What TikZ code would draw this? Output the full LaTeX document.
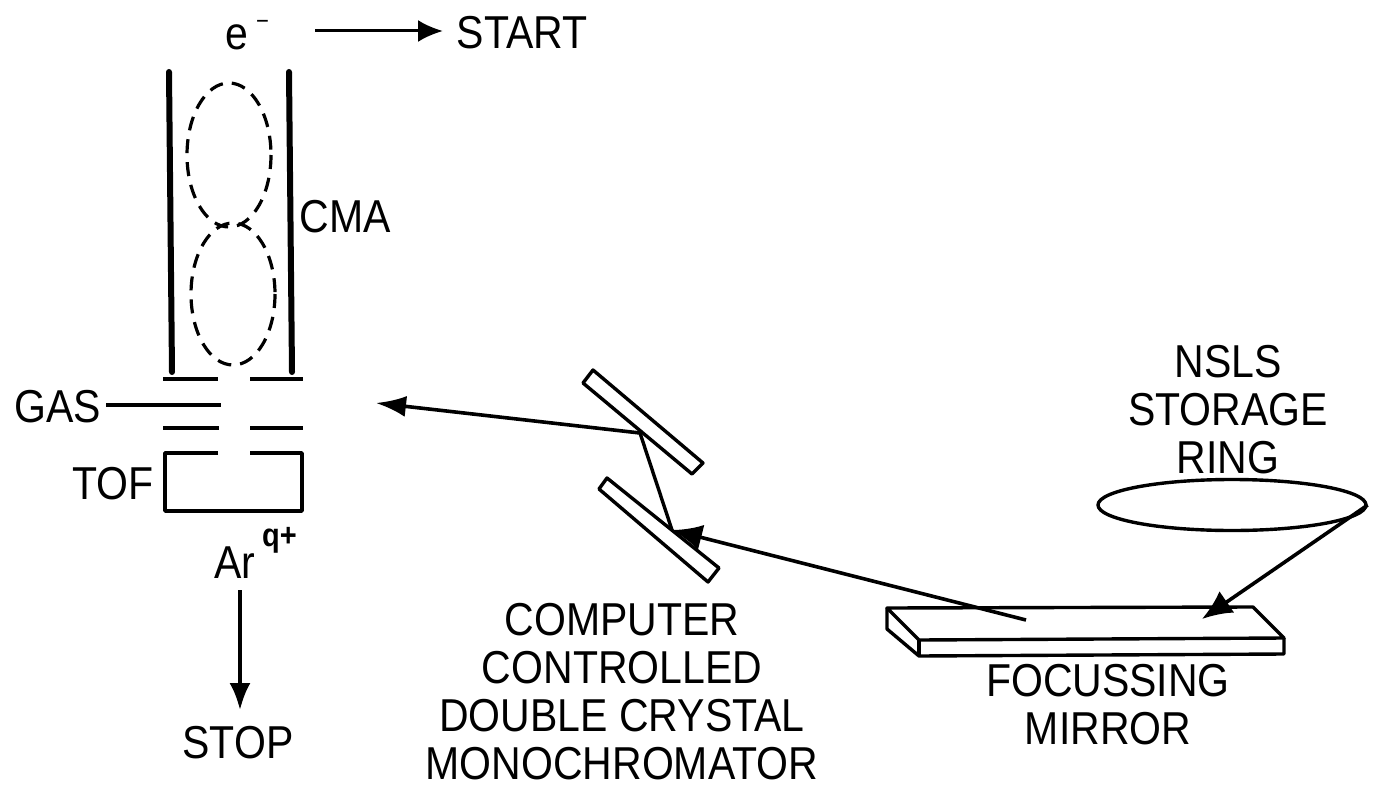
\documentclass[tikz,border=0pt]{standalone}
\usepackage{fontspec}
\setmainfont{Liberation Sans}
\usetikzlibrary{arrows.meta,shapes.geometric}
\begin{document}
\begin{tikzpicture}[x=1pt, y=-1pt,
  lbl/.style={inner sep=0pt, align=center, font=\fontsize{41}{42.6}\selectfont, transform shape, yscale=1.125},
  wall/.style={line width=6pt, line cap=round},
  slit/.style={line width=3.2pt},
  orbit/.style={line width=3.2pt, dash pattern=on 14pt off 9pt},
  part/.style={line width=3.4pt, line join=round},
  beam/.style={line width=3.6pt, -{Latex[length=30pt,width=26pt]}}
]
\useasboundingbox (0,0) rectangle (1376,792);
% analyser
\draw[wall] (169,72) -- (172,372);
\draw[wall] (289,72) -- (292,372);
\draw[orbit] (229,155) ellipse [x radius=42, y radius=72];
\draw[orbit] (233,294) ellipse [x radius=42, y radius=71];
\node[lbl] (cma) at (345,217) {CMA};
\node[lbl, anchor=west] (elec) at (225,35) {e\hspace{8pt}\raisebox{18pt}{\fontsize{22}{22}\selectfont −}};
\node[lbl] (start) at (522,33) {START};
\coordinate (startfrom) at (315,31);
\draw[beam, line width=3pt, -{Latex[length=25pt,width=22pt]}] (startfrom) -- (443,31);
% slits
\coordinate (s1l) at (163,379); \coordinate (s1m) at (218,379);
\coordinate (s1n) at (250,379); \coordinate (s1r) at (303,379);
\coordinate (s2l) at (163,428); \coordinate (s2m) at (219,428);
\coordinate (s2n) at (250,428); \coordinate (s2r) at (303,428);
\draw[slit] (s1l) -- (s1m);
\draw[slit] (s1n) -- (s1r);
\draw[slit] (s2l) -- (s2m);
\draw[slit] (s2n) -- (s2r);
\node[lbl] (gas) at (58,407) {GAS};
\coordinate (gasend) at (221,405);
\draw[slit] (106,405) -- (gasend);
\draw[part] (218,453) -- (165,453) -- (165,511) -- (302,511) -- (302,453) -- (250,453);
\node[lbl] (tof) at (113,484) {TOF};
\node[lbl, anchor=base west] (ion) at (214,578) {Ar\hspace{7pt}\raisebox{28pt}{\bfseries\fontsize{29}{29}\selectfont q+}};
\node[lbl] (stop) at (238,743) {STOP};
\coordinate (stopfrom) at (240,590);
\draw[beam, -{Latex[length=27pt,width=21pt]}] (stopfrom) -- (240,710);
% monochromator
\coordinate (hit1) at (640,433);
\coordinate (hit2) at (672,530);
\draw[part] (593,370) -- (583,383) -- (692,474) -- (703,463) -- cycle;
\draw[part] (607,478) -- (599,489) -- (708,582) -- (719,568) -- cycle;
\node[lbl] (mono) at (622,692) {COMPUTER\\CONTROLLED\\DOUBLE CRYSTAL\\MONOCHROMATOR};
\coordinate (photon) at (376,403);
\draw[beam, -{Latex[length=30pt,width=21pt]}] (hit1) -- (photon);
\draw[part] (hit1) -- (hit2);
% mirror
\draw[part] (887,608) -- (1253,607) -- (1284,638) -- (919,640) -- cycle;
\draw[part] (887,608) -- (887,629) -- (919,656) -- (1284,654) -- (1284,638);
\draw[part] (919,640) -- (919,656);
\coordinate (mhit) at (1026,620);
\draw[beam] (mhit) -- (hit2);
\node[lbl] (mirror) at (1108,705) {FOCUSSING\\MIRROR};
% ring
\node[draw, part, ellipse, inner sep=0pt, minimum width=268pt, minimum height=51pt] (ring) at (1232,505) {};
\node[lbl] (nsls) at (1228,410) {NSLS\\STORAGE\\RING};
\coordinate (rhit) at (1202,619);
\draw[beam] (ring.east) -- (rhit);
\end{tikzpicture}
\end{document}
